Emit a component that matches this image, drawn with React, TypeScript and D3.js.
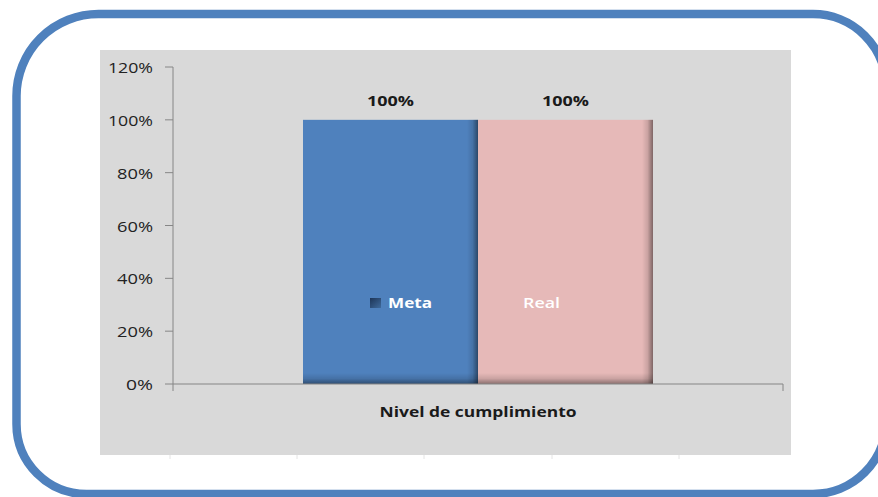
import React from "react";
import * as d3 from "d3";

const categories = ["Nivel de cumplimiento"];
const seriesNames = ["Meta", "Real"];
const seriesValues = [1.0, 1.0];
const seriesColors = ["#4f81bd", "#e6b9b8"];
const valueLabels = ["100%", "100%"];
const yTicks = [0, 0.2, 0.4, 0.6, 0.8, 1.0, 1.2];
const yTickLabels = ["0%", "20%", "40%", "60%", "80%", "100%", "120%"];
const sheetGridX = [170, 297, 424, 552, 679];

const FONT = "'Open Sans', Lato, sans-serif";

function tickWidth(s: string) {
  return (s.length - 1) * 9 + 18;
}

export default function App() {
  const W = 878;
  const H = 497;
  const y = d3.scaleLinear().domain([0, 1.2]).range([384, 67]);
  const x0 = d3
    .scaleBand<string>()
    .domain(categories)
    .range([173, 783])
    .paddingInner(0)
    .paddingOuter(0.3714);
  const x1 = d3.scaleBand<string>().domain(seriesNames).range([0, x0.bandwidth()]);

  // border path with per-corner radii (right edge lies just outside the frame)
  const L = 16.5, T = 14, R = 886, B = 494;
  const rTL = 82, rBL = 70, rTR = 73, rBR = 73;
  const borderPath = `M${L + rTL},${T} H${R - rTR} A${rTR},${rTR} 0 0 1 ${R},${T + rTR} V${B - rBR} A${rBR},${rBR} 0 0 1 ${R - rBR},${B} H${L + rBL} A${rBL},${rBL} 0 0 1 ${L},${B - rBL} V${T + rTL} A${rTL},${rTL} 0 0 1 ${L + rTL},${T} Z`;

  const cat = categories[0];
  const catX = x0(cat)!;
  const y0 = y(0);
  const axisLeft = 173;
  const axisRight = 783;

  return (
    <svg
      width={W}
      height={H}
      style={{ position: "absolute", left: 0, top: 0, display: "block", background: "#ffffff" }}
    >
      <defs>
        <linearGradient id="shadeR" x1="0" y1="0" x2="1" y2="0">
          <stop offset="0" stopColor="#000" stopOpacity="0" />
          <stop offset="0.5" stopColor="#000" stopOpacity="0.12" />
          <stop offset="1" stopColor="#000" stopOpacity="0.45" />
        </linearGradient>
        <linearGradient id="shadeB" x1="0" y1="0" x2="0" y2="1">
          <stop offset="0" stopColor="#000" stopOpacity="0" />
          <stop offset="0.5" stopColor="#000" stopOpacity="0.12" />
          <stop offset="1" stopColor="#000" stopOpacity="0.4" />
        </linearGradient>
        <linearGradient id="legMeta" x1="0" y1="0" x2="1" y2="1">
          <stop offset="0" stopColor="#1d3557" />
          <stop offset="1" stopColor="#3f6a9c" />
        </linearGradient>
      </defs>

      <rect x={0} y={0} width={W} height={H} fill="#ffffff" />

      {/* chart area */}
      <rect x={100} y={50} width={691} height={405} fill="#d9d9d9" />
      {sheetGridX.map((gx, i) => (
        <line key={i} x1={gx} x2={gx} y1={455} y2={459} stroke="#e4e4e4" strokeWidth={1} />
      ))}

      {/* bars */}
      {seriesNames.map((s, i) => {
        const bx = catX + x1(s)!;
        const bw = x1.bandwidth();
        const by = y(seriesValues[i]);
        const bh = y0 - by;
        return (
          <g key={s}>
            <rect x={bx} y={by} width={bw} height={bh} fill={seriesColors[i]} />
            <rect x={bx + bw - 11} y={by} width={11} height={bh} fill="url(#shadeR)" />
            <rect x={bx} y={y0 - 11} width={bw} height={11} fill="url(#shadeB)" />
            <text
              x={bx + bw / 2}
              y={by - 14}
              textAnchor="middle"
              fontFamily={FONT}
              fontWeight={700}
              fontSize={14}
              fill="#1a1a1a"
              textLength={47}
              lengthAdjust="spacingAndGlyphs"
            >
              {valueLabels[i]}
            </text>
          </g>
        );
      })}

      {/* legend inside bars */}
      <rect x={370} y={298} width={11} height={10} fill="url(#legMeta)" />
      <text
        x={388}
        y={308}
        fontFamily={FONT}
        fontWeight={700}
        fontSize={14}
        fill="#ffffff"
        textLength={44}
        lengthAdjust="spacingAndGlyphs"
      >
        {seriesNames[0]}
      </text>
      <rect x={505} y={298} width={11} height={10} fill={seriesColors[1]} />
      <text
        x={523}
        y={308}
        fontFamily={FONT}
        fontWeight={600}
        fontSize={14}
        fill="#ffffff"
        textLength={37}
        lengthAdjust="spacingAndGlyphs"
      >
        {seriesNames[1]}
      </text>

      {/* y axis */}
      <line x1={axisLeft} x2={axisLeft} y1={y(1.2)} y2={y0} stroke="#868686" strokeWidth={1} />
      {yTicks.map((t, i) => (
        <g key={i}>
          <line x1={165} x2={axisLeft} y1={y(t)} y2={y(t)} stroke="#868686" strokeWidth={1} />
          <text
            x={153}
            y={y(t) + 6}
            textAnchor="end"
            fontFamily={FONT}
            fontSize={14}
            fill="#222"
            textLength={tickWidth(yTickLabels[i])}
            lengthAdjust="spacingAndGlyphs"
          >
            {yTickLabels[i]}
          </text>
        </g>
      ))}

      {/* x axis */}
      <line x1={axisLeft} x2={axisRight} y1={y0} y2={y0} stroke="#868686" strokeWidth={1.2} />
      <line x1={axisLeft} x2={axisLeft} y1={y0} y2={391} stroke="#868686" strokeWidth={1} />
      <line x1={axisRight} x2={axisRight} y1={y0} y2={391} stroke="#868686" strokeWidth={1} />
      <text
        x={catX + x0.bandwidth() / 2}
        y={417}
        textAnchor="middle"
        fontFamily={FONT}
        fontWeight={700}
        fontSize={14}
        fill="#1a1a1a"
        textLength={197}
        lengthAdjust="spacingAndGlyphs"
      >
        {cat}
      </text>

      {/* rounded border */}
      <path d={borderPath} fill="none" stroke="#4f81bd" strokeWidth={8.5} />
    </svg>
  );
}
